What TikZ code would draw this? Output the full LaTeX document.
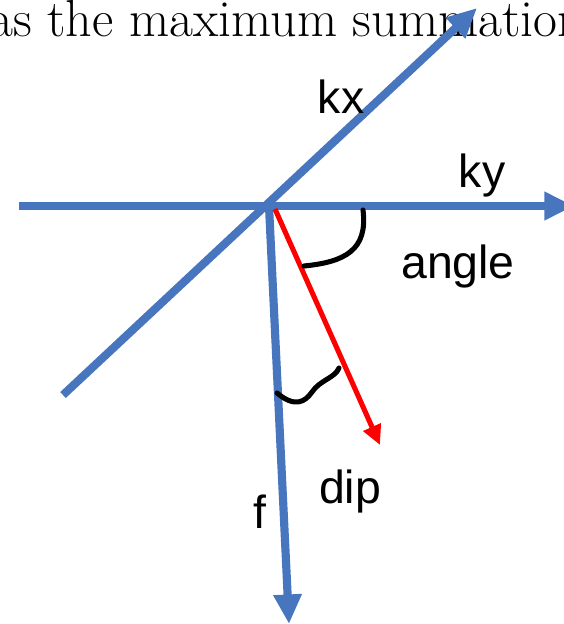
\documentclass[tikz,border=0pt]{standalone}
\usepackage{fontspec}
\newfontfamily\labelfont{Liberation Sans}
\usetikzlibrary{arrows.meta}

\definecolor{axisblue}{RGB}{72,118,190}
\tikzset{
  axis/.style={line width=5.8pt,axisblue,-{Triangle[length=21pt,width=19pt]}},
  dipline/.style={line width=3.6pt,red,-{Triangle[length=14pt,width=13pt]}},
  mark curve/.style={line width=3.6pt,black,line cap=round},
  lab/.style={font=\labelfont\fontsize{33}{36}\selectfont,inner sep=0pt}
}

\begin{document}
\begin{tikzpicture}[x=0.025cm,y=-0.025cm]
\useasboundingbox (0,0) rectangle (564,624);
\clip (0,0) rectangle (564,624);
\node[anchor=base west,inner sep=0pt,font=\fontsize{37}{40}\selectfont] (caption) at (-11,37) {as the maximum summation};
\coordinate (o) at (269,206);
\coordinate (west) at (19,206);
\coordinate (east) at (574,206);
\coordinate (sw) at (63,395);
\coordinate (ne) at (477,8);
\coordinate (down) at (289,624);
\coordinate (dtip) at (380,445);
\draw[axis] (west) -- (east);
\draw[axis] (sw) -- (ne);
\draw[axis] (o) -- (down);
\draw[dipline] (275,209) -- (dtip);
\draw[mark curve] (363,210) .. controls (368,250) and (345,262) .. (304,266);
\draw[mark curve] (277,393) .. controls (295,408) and (305,402) .. (312,392) .. controls (320,380) and (335,378) .. (339,368);
\node[lab] (kx) at (341,97) {kx};
\node[lab] (ky) at (482,176) {ky};
\node[lab] (angle) at (458,266) {angle};
\node[lab] (dip) at (350,491) {dip};
\node[lab] (f) at (260,512) {f};
\end{tikzpicture}
\end{document}
